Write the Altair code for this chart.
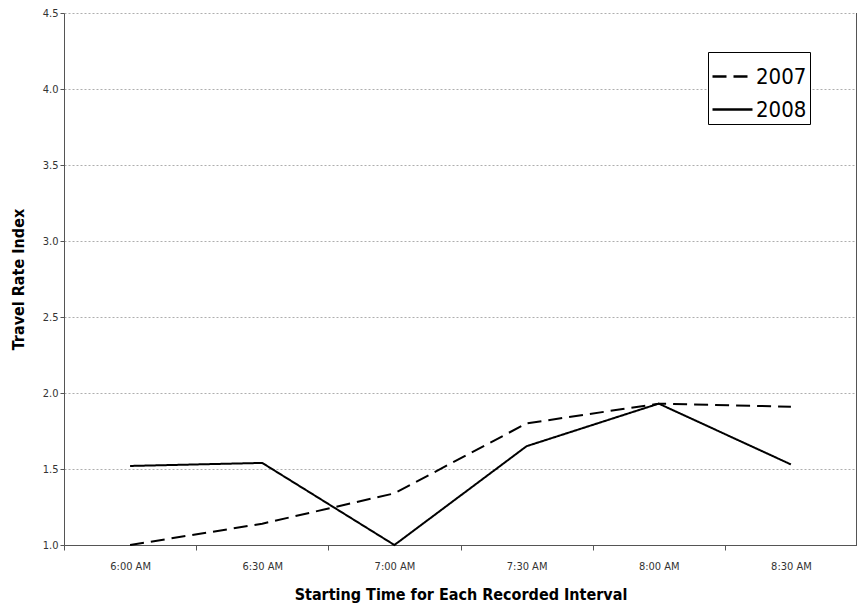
import altair as alt
import pandas as pd

times = ["6:00 AM", "6:30 AM", "7:00 AM", "7:30 AM", "8:00 AM", "8:30 AM"]
tri_2007 = [1.00, 1.14, 1.34, 1.80, 1.93, 1.91]
tri_2008 = [1.52, 1.54, 1.00, 1.65, 1.93, 1.53]
years = ["2007", "2008"]

rows = []
for t, v in zip(times, tri_2007):
    rows.append({"time": t, "value": v, "year": years[0]})
for t, v in zip(times, tri_2008):
    rows.append({"time": t, "value": v, "year": years[1]})
df = pd.DataFrame(rows)

FONT = "Liberation Sans Narrow, DejaVu Sans Condensed, Roboto, sans-serif"
W, H = 793, 532

lines = alt.Chart(df).mark_line(color="black", strokeWidth=2).encode(
    x=alt.X("time:N", sort=times,
            scale=alt.Scale(paddingInner=0, paddingOuter=0),
            axis=alt.Axis(title="Starting Time for Each Recorded Interval",
                          labelAngle=0, tickBand="extent", labelFontSize=11,
                          labelColor="#333", labelPadding=10,
                          titleFontSize=16, titleFontWeight="bold",
                          titlePadding=15, tickSize=5, tickColor="#555",
                          domainColor="#555", grid=False)),
    y=alt.Y("value:Q",
            scale=alt.Scale(domain=[1, 4.5], nice=False, zero=False),
            axis=alt.Axis(title="Travel Rate Index", values=[1, 1.5, 2, 2.5, 3, 3.5, 4, 4.5],
                          format=".1f", labelFontSize=11, labelColor="#333",
                          titleFontSize=16, titleFontWeight="bold", titlePadding=16,
                          tickSize=4, tickColor="#555", domainColor="#555",
                          grid=True, gridColor="#999", gridDash=[2, 2], gridWidth=0.8)),
    strokeDash=alt.StrokeDash("year:N",
                              scale=alt.Scale(domain=years, range=[[14, 7], [1, 0]]),
                              legend=alt.Legend(title=None, orient="none",
                                                legendX=644, legendY=39,
                                                symbolType="stroke", symbolSize=1600,
                                                symbolStrokeWidth=2.5, symbolStrokeColor="black",
                                                labelFontSize=22, labelColor="black",
                                                labelOffset=2,
                                                fillColor="white", strokeColor="black",
                                                padding=3, rowPadding=-12)),
)

right_border = alt.Chart(pd.DataFrame({"v": [0]})).mark_rule(color="#555", strokeWidth=1).encode(
    x=alt.value(W - 0.5), y=alt.value(0), y2=alt.value(H)
)

chart = alt.layer(lines, right_border).properties(
    width=W, height=H,
    autosize=alt.AutoSizeParams(type="none"),
    padding={"left": 56, "top": 5, "right": 0, "bottom": 58},
).configure(font=FONT).configure_view(stroke=None)

chart.save("out.html", embed_options={"renderer": "svg", "actions": False})
